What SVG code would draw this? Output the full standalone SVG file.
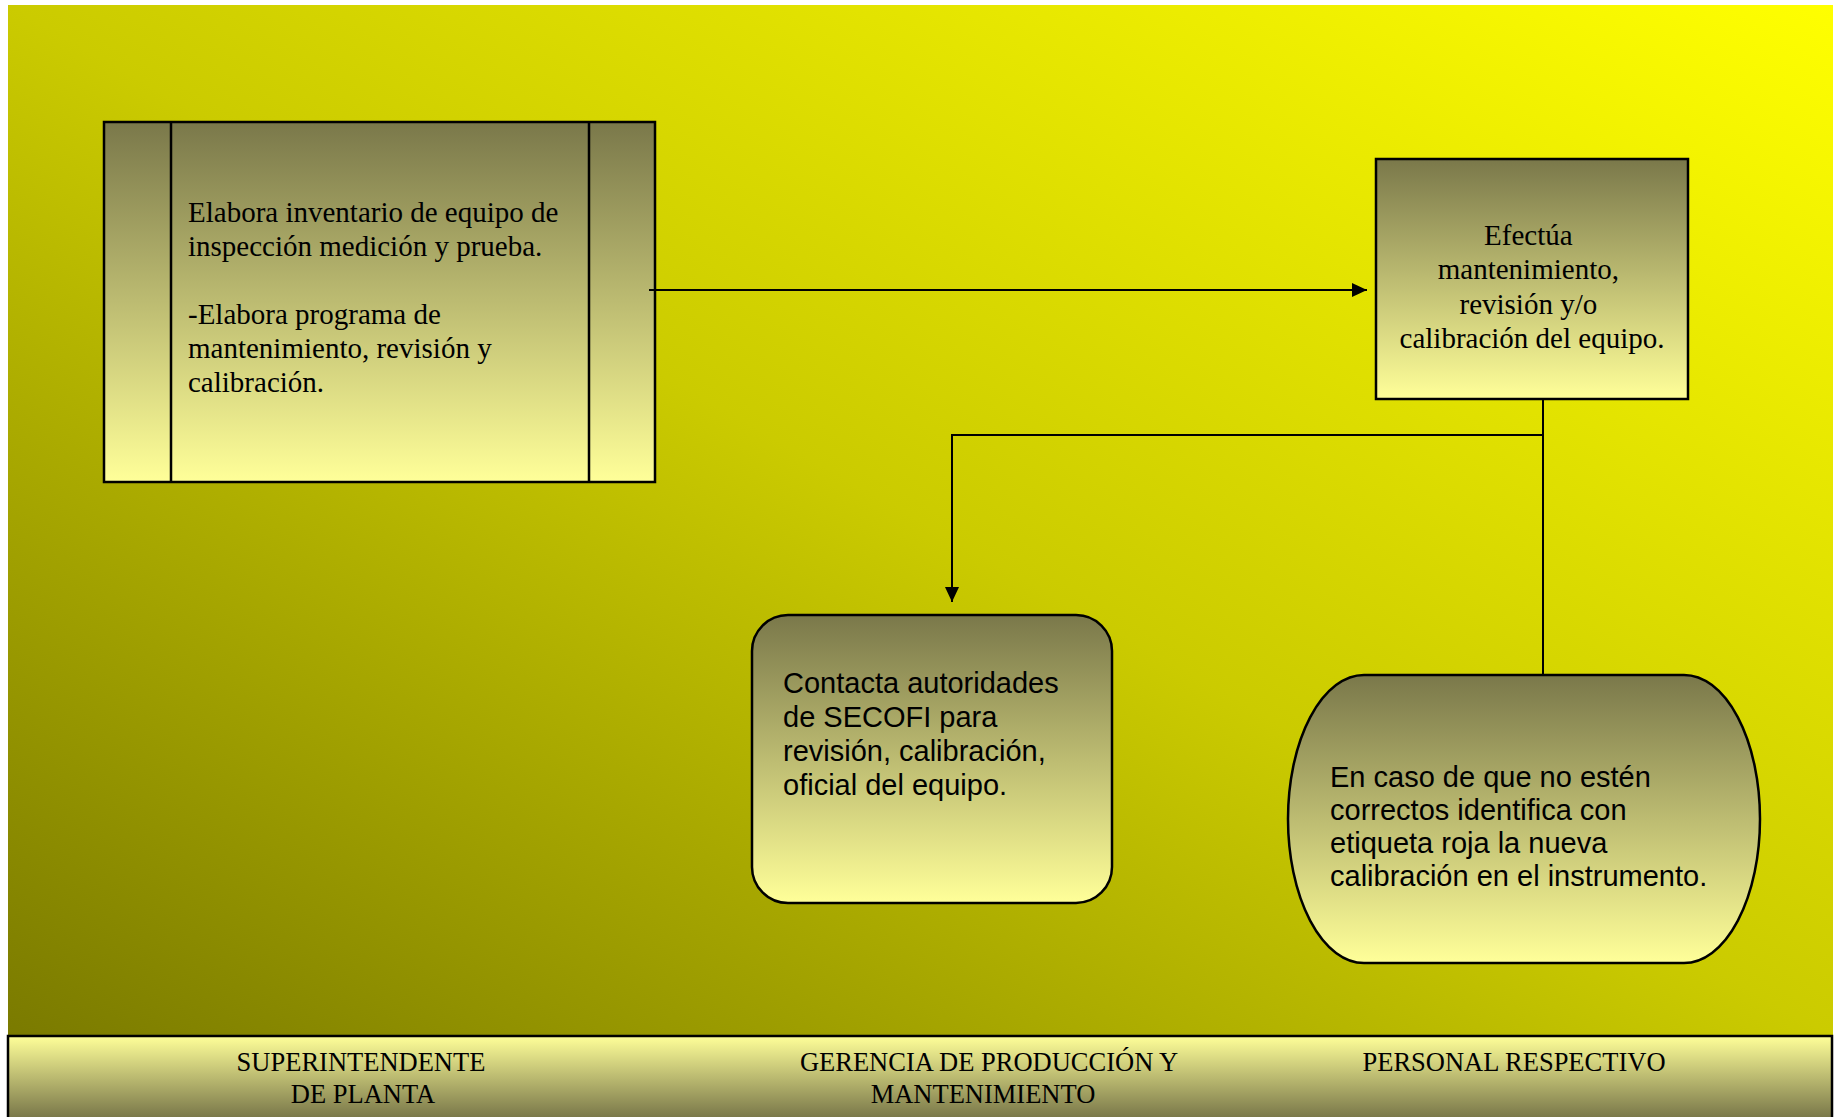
<svg xmlns="http://www.w3.org/2000/svg" width="1840" height="1117" viewBox="0 0 1840 1117">
  <defs>
    <!-- diagonal olive-to-yellow backdrop -->
    <linearGradient id="bg" x1="0" y1="1" x2="1" y2="0">
      <stop offset="0" stop-color="#7A7A00"/>
      <stop offset="0.5" stop-color="#CBCB00"/>
      <stop offset="1" stop-color="#FFFF00"/>
    </linearGradient>
    <!-- node fill: dark olive at top fading to pale yellow -->
    <linearGradient id="nodeFill" x1="0" y1="0" x2="0" y2="1">
      <stop offset="0" stop-color="#7A784A"/>
      <stop offset="1" stop-color="#FFFF99"/>
    </linearGradient>
    <!-- footer band: pale yellow at top fading to olive -->
    <linearGradient id="bandFill" gradientUnits="userSpaceOnUse" x1="0" y1="1036" x2="0" y2="1117">
      <stop offset="0" stop-color="#FFFF99"/>
      <stop offset="1" stop-color="#7A784A"/>
    </linearGradient>
    <marker id="arrow" markerUnits="userSpaceOnUse" markerWidth="16" markerHeight="16" viewBox="0 0 16 16" refX="15" refY="8" orient="auto">
      <path d="M0,1 L15,8 L0,15 Z" fill="#000"/>
    </marker>
  </defs>
  <style>
    .node { fill: url(#nodeFill); stroke: #000; stroke-width: 2.5; }
    .sep { stroke: #000; stroke-width: 2.5; fill: none; }
    .conn { stroke: #000; stroke-width: 2; fill: none; }
    .serif { font-family: "Liberation Serif", "Times New Roman", serif; font-size: 29px; fill: #000; }
    .sans { font-family: "Liberation Sans", Arial, sans-serif; font-size: 29px; fill: #000; }
    .lane { font-family: "Liberation Serif", "Times New Roman", serif; font-size: 26.5px; fill: #000; text-anchor: middle; }
  </style>

  <rect x="0" y="0" width="1840" height="1117" fill="#FFFFFF"/>
  <rect x="8" y="5" width="1825" height="1031" fill="url(#bg)"/>

  <!-- predefined process: inventory and programme -->
  <g id="node-inventario">
    <rect class="node" x="104" y="122" width="551" height="360"/>
    <line class="sep" x1="171" y1="122" x2="171" y2="482"/>
    <line class="sep" x1="589" y1="122" x2="589" y2="482"/>
    <text class="serif" x="188">
      <tspan x="188" y="222">Elabora inventario de equipo de</tspan>
      <tspan x="188" y="256">inspección medición y prueba.</tspan>
      <tspan x="188" y="324">-Elabora programa de</tspan>
      <tspan x="188" y="358">mantenimiento, revisión y</tspan>
      <tspan x="188" y="392">calibración.</tspan>
    </text>
  </g>

  <!-- process: maintenance / calibration -->
  <g id="node-efectua">
    <rect class="node" x="1376" y="159" width="312" height="240"/>
    <text class="serif" text-anchor="middle">
      <tspan x="1532" y="245">Efectúa</tspan>
      <tspan x="1532" y="279">mantenimiento,</tspan>
      <tspan x="1532" y="314">revisión y/o</tspan>
      <tspan x="1532" y="348">calibración del equipo.</tspan>
    </text>
  </g>

  <!-- rounded process: contact SECOFI -->
  <g id="node-secofi">
    <rect class="node" x="752" y="615" width="360" height="288" rx="36" ry="36" stroke-width="2"/>
    <text class="sans">
      <tspan x="783" y="693">Contacta autoridades</tspan>
      <tspan x="783" y="727">de SECOFI para</tspan>
      <tspan x="783" y="761">revisión, calibración,</tspan>
      <tspan x="783" y="795">oficial del equipo.</tspan>
    </text>
  </g>

  <!-- terminal-like shape: red label -->
  <g id="node-etiqueta">
    <rect class="node" x="1288" y="675" width="472" height="288" rx="76" ry="144" stroke-width="2"/>
    <text class="sans">
      <tspan x="1330" y="787">En caso de que no estén</tspan>
      <tspan x="1330" y="820">correctos identifica con</tspan>
      <tspan x="1330" y="853">etiqueta roja la nueva</tspan>
      <tspan x="1330" y="886">calibración en el instrumento.</tspan>
    </text>
  </g>

  <g id="connectors">
    <path class="conn" d="M649,290 H1367" marker-end="url(#arrow)"/>
    <path class="conn" d="M1543,399 V675"/>
    <path class="conn" d="M1543,435 H952 V602" marker-end="url(#arrow)"/>
  </g>

  <!-- lane labels along the bottom -->
  <g id="lanes">
    <rect x="8" y="1036" width="1824" height="90" fill="url(#bandFill)" stroke="#000" stroke-width="2.5"/>
    <text class="lane"><tspan x="361" y="1071">SUPERINTENDENTE</tspan><tspan x="363" y="1103">DE PLANTA</tspan></text>
    <text class="lane"><tspan x="989" y="1071">GERENCIA DE PRODUCCIÓN Y</tspan><tspan x="983" y="1103">MANTENIMIENTO</tspan></text>
    <text class="lane"><tspan x="1514" y="1071">PERSONAL RESPECTIVO</tspan></text>
  </g>
</svg>
